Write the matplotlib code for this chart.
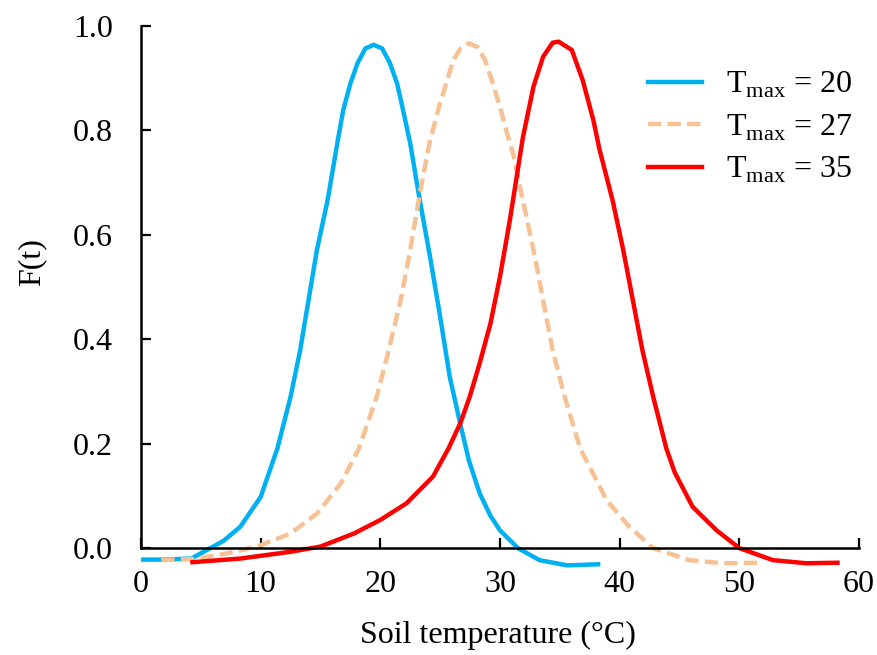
import matplotlib
matplotlib.use('Agg')
import matplotlib.pyplot as plt

plt.rcParams['font.family'] = ['Liberation Serif', 'DejaVu Serif']
plt.rcParams['mathtext.fontset'] = 'custom'
plt.rcParams['mathtext.rm'] = 'Liberation Serif'

# values
x_20 = [0, 2, 4.2, 5.8, 6.9, 8.3, 10, 11.4, 12.5, 13.3, 14.0, 14.7, 15.6, 16.4, 16.9, 17.5,
        18.1, 18.75, 19.45, 20.15, 20.8, 21.4, 21.9, 22.5, 23.2, 24.2, 25.0, 25.8, 26.7, 27.4,
        28.3, 29.2, 30.0, 31.5, 33.3, 35.6, 38.2]
y_20 = [-0.022, -0.022, -0.020, 0.0, 0.014, 0.041, 0.098, 0.191, 0.29, 0.379, 0.475, 0.571, 0.667, 0.775, 0.839, 0.890,
        0.929, 0.957, 0.964, 0.957, 0.929, 0.890, 0.839, 0.775, 0.679, 0.552, 0.443, 0.328, 0.236, 0.168,
        0.105, 0.062, 0.034, 0.0, -0.023, -0.033, -0.031]

x_27 = [1.7, 4.4, 7.2, 9.7, 12.5, 14.7, 16.7, 18.2, 19.7, 20.7, 21.7, 22.5, 23.3, 24.1, 24.9, 25.6,
        26.1, 26.7, 27.4, 28.1, 28.75, 29.3, 30.0, 30.6, 31.1, 31.9, 32.8, 33.6, 34.4, 35.4, 36.7,
        38.9, 40.8, 42.8, 45.8, 48.6, 51.7]
y_27 = [-0.023, -0.021, -0.010, 0.003, 0.028, 0.066, 0.124, 0.19, 0.29, 0.379, 0.475, 0.571, 0.679, 0.775, 0.845, 0.897,
        0.935, 0.957, 0.967, 0.960, 0.935, 0.897, 0.845, 0.794, 0.755, 0.667, 0.571, 0.475, 0.379, 0.29, 0.191,
        0.092, 0.041, 0.0, -0.023, -0.029, -0.028]

x_35 = [4.3, 8.3, 12.5, 15.0, 17.8, 20.0, 22.2, 24.4, 25.7, 26.7, 27.5, 28.3, 29.2, 30.0, 30.8, 31.25,
        31.9, 32.8, 33.6, 34.4, 34.9, 36.0, 36.9, 37.8, 38.3, 39.4, 40.3, 41.1, 41.9, 42.8, 43.9,
        44.6, 46.1, 48.1, 50.0, 52.8, 55.6, 58.2]
y_35 = [-0.027, -0.020, -0.007, 0.003, 0.028, 0.054, 0.086, 0.137, 0.191, 0.240, 0.292, 0.354, 0.430, 0.52, 0.625, 0.69,
        0.785, 0.884, 0.941, 0.968, 0.970, 0.954, 0.897, 0.82, 0.765, 0.667, 0.571, 0.475, 0.379, 0.29, 0.191,
        0.145, 0.079, 0.034, 0.0, -0.023, -0.029, -0.028]

labels = [r'T$_{\mathrm{max}}$ = 20', r'T$_{\mathrm{max}}$ = 27', r'T$_{\mathrm{max}}$ = 35']

fig = plt.figure(figsize=(8.78, 6.55), dpi=100)
ax = fig.add_axes([141 / 878, 1 - 569 / 655, 718 / 878, 543 / 655])

ax.plot(x_20, y_20, color='#00B0F0', lw=3.2, label=labels[0])
ax.plot(x_27, y_27, color='#F8C193', lw=3.2, dashes=(3, 1.4), label=labels[1])
ax.plot(x_35, y_35, color='#FF0000', lw=3.2, label=labels[2])

ax.set_xlim(0, 60)
ax.set_ylim(-0.04, 1.0)
ax.spines['top'].set_visible(False)
ax.spines['right'].set_visible(False)
ax.spines['bottom'].set_position(('data', 0))
ax.spines['left'].set_bounds(0, 1.0)
for s in ['left', 'bottom']:
    ax.spines[s].set_linewidth(1.8)

ax.set_xticks([0, 10, 20, 30, 40, 50, 60])
ax.set_yticks([0, 0.2, 0.4, 0.6, 0.8, 1.0])
ax.set_yticklabels(['0.0', '0.2', '0.4', '0.6', '0.8', '1.0'])
ax.tick_params(axis='y', direction='in', length=7, width=1.6, pad=20, labelsize=23)
ax.tick_params(axis='x', direction='in', length=7, width=1.6, pad=16, labelsize=23)

fig.text(498 / 878, 1 - 635 / 655, 'Soil temperature (\u00b0C)', ha='center', va='center', fontsize=23)
fig.text(32 / 878, 1 - 262 / 655, 'F(t)', ha='center', va='center', rotation=90, fontsize=23)

ax.legend(loc='upper left', bbox_to_anchor=(648 / 878, 1 - 70 / 655), bbox_transform=fig.transFigure,
          frameon=False, fontsize=23, handlelength=1.7, handletextpad=0.75, labelspacing=0.38,
          borderpad=0, borderaxespad=0)

fig.savefig('out.png', dpi=100)
